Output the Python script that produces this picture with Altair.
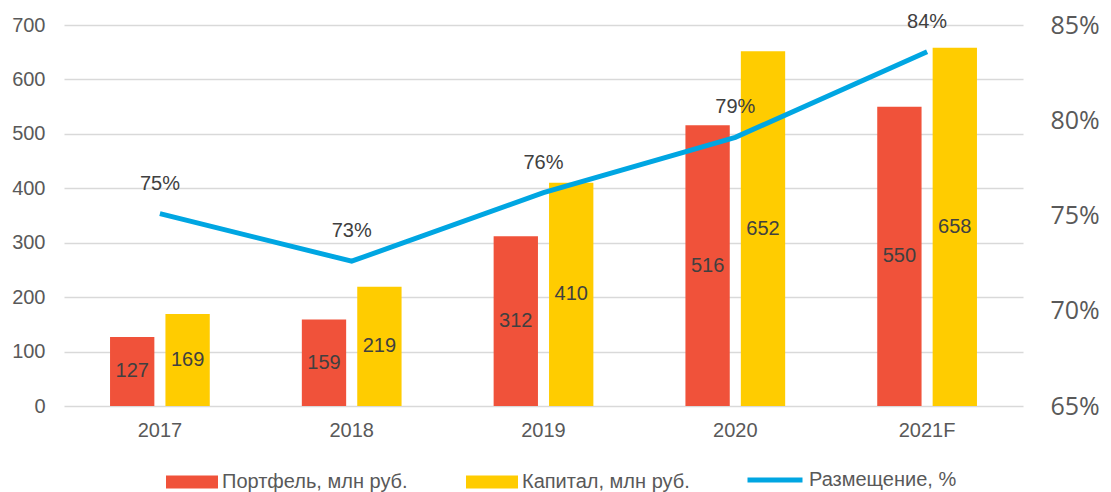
import altair as alt
import pandas as pd

years = ["2017", "2018", "2019", "2020", "2021F"]
portfolio = [127, 159, 312, 516, 550]
capital = [169, 219, 410, 652, 658]
placement = [0.751, 0.726, 0.762, 0.791, 0.836]

s_port = "Портфель, млн руб."
s_cap = "Капитал, млн руб."
s_place = "Размещение, %"

RED = "#F0523A"
YELLOW = "#FFCC00"
BLUE = "#00A6E2"
GRAY = "#595959"
DARK = "#404040"
FONT = "Liberation Sans"

df_port = pd.DataFrame({"year": years, "value": portfolio, "series": s_port})
df_cap = pd.DataFrame({"year": years, "value": capital, "series": s_cap})
df_bars = pd.concat([df_port, df_cap], ignore_index=True)
df_line = pd.DataFrame({"year": years, "value": placement, "series": s_place})

x_enc = alt.X(
    "year:N",
    sort=years,
    scale=alt.Scale(domain=years, paddingInner=0.48, paddingOuter=0.24),
    axis=alt.Axis(title=None, labelAngle=0, labelFont=FONT, labelFontSize=20,
                  labelColor=GRAY, labelPadding=14, domain=False, ticks=False,
                  grid=False),
)
xo_enc = alt.XOffset("series:N",
                     scale=alt.Scale(domain=[s_port, s_cap], paddingInner=0.2, paddingOuter=0))

left_axis = alt.Axis(title=None, values=[0, 100, 200, 300, 400, 500, 600, 700],
                     labelFont=FONT, labelFontSize=20, labelColor=GRAY, labelPadding=19,
                     domain=False, ticks=False, tickSize=0, grid=True,
                     gridColor="#D9D9D9", gridWidth=1.5)
left_scale = alt.Scale(domain=[0, 700], nice=False)

bar_sym = "M-1,-0.25H1V0.25H-1Z"


def legend(x, y, stroke=False):
    kw = dict(orient="none", legendX=x, legendY=y, title=None,
              labelFont=FONT, labelFontSize=20, labelColor=GRAY, labelOffset=4,
              labelLimit=400)
    if stroke:
        kw.update(symbolType="stroke", symbolSize=3025, symbolStrokeWidth=5)
    else:
        kw.update(symbolType=bar_sym, symbolSize=2704, symbolStrokeWidth=0)
    return alt.Legend(**kw)


red = alt.Chart(df_port).mark_bar().encode(
    x=x_enc, xOffset=xo_enc,
    y=alt.Y("value:Q", scale=left_scale, axis=left_axis),
    color=alt.Color("series:N", scale=alt.Scale(domain=[s_port], range=[RED]),
                    legend=legend(102, 431)),
)
yellow = alt.Chart(df_cap).mark_bar().encode(
    x=x_enc, xOffset=xo_enc,
    y=alt.Y("value:Q", scale=left_scale, axis=left_axis),
    fill=alt.Fill("series:N", scale=alt.Scale(domain=[s_cap], range=[YELLOW]),
                  legend=legend(402, 431)),
)
bar_text = alt.Chart(df_bars).transform_calculate(mid="datum.value / 2").mark_text(
    font=FONT, fontSize=20, color=DARK, baseline="middle"
).encode(
    x=x_enc, xOffset=xo_enc,
    y=alt.Y("mid:Q", scale=left_scale, axis=left_axis),
    text=alt.Text("value:Q"),
)
bars = alt.layer(red, yellow, bar_text)

right_scale = alt.Scale(domain=[0.65, 0.85], nice=False)
right_axis = alt.Axis(orient="right", title=None, values=[0.65, 0.70, 0.75, 0.80, 0.85],
                      format=".0%", labelFont="Open Sans", labelFontSize=25,
                      labelColor=GRAY, labelPadding=27, grid=False, domain=False,
                      ticks=False, tickSize=0)

line = alt.Chart(df_line).mark_line(strokeWidth=5).encode(
    x=x_enc,
    y=alt.Y("value:Q", scale=right_scale, axis=right_axis),
    stroke=alt.Stroke("series:N", scale=alt.Scale(domain=[s_place], range=[BLUE]),
                      legend=legend(681, 425, stroke=True)),
)
line_text = alt.Chart(df_line).mark_text(
    font=FONT, fontSize=20, color=DARK, baseline="middle", dy=-30
).encode(
    x=x_enc,
    y=alt.Y("value:Q", scale=right_scale, axis=right_axis),
    text=alt.Text("value:Q", format=".0%"),
)
lines = alt.layer(line, line_text)

chart = alt.layer(bars, lines).resolve_scale(y="independent").properties(
    width=959, height=381,
    autosize=alt.AutoSizeParams(type="none"),
    padding={"left": 56, "top": 17, "right": 80, "bottom": 86},
).configure(background="white", view=alt.ViewConfig(stroke=None))

chart.save("out.html", embed_options={"renderer": "svg", "actions": False})
